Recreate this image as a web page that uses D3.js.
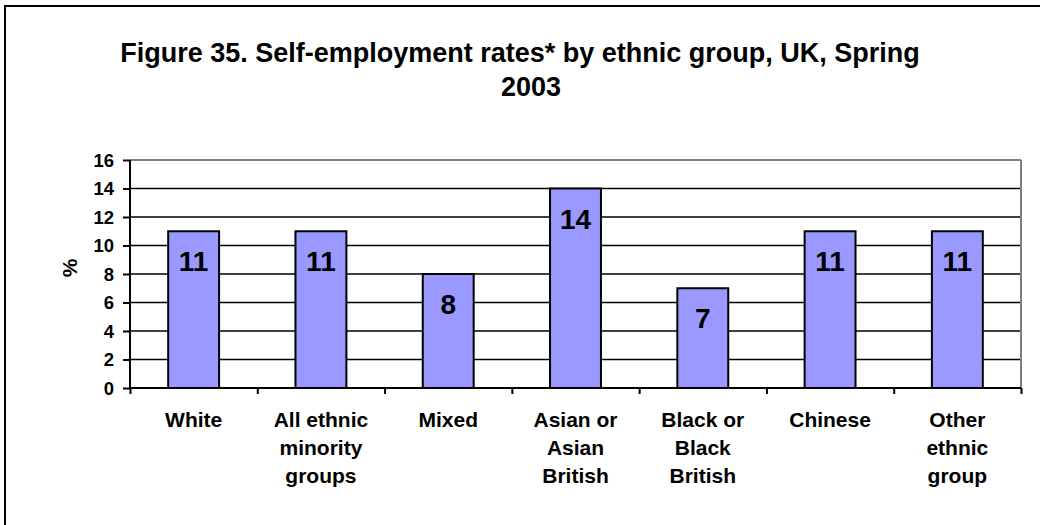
<!DOCTYPE html>
<html><head><meta charset="utf-8">
<script src="https://cdn.jsdelivr.net/npm/d3@7"></script>
<style>body{margin:0;background:#fff}svg{display:block}text{font-family:Arial,"Liberation Sans",sans-serif;font-weight:bold;fill:#000}</style>
</head><body>
<script>
const categories = [["White"],["All ethnic","minority","groups"],["Mixed"],["Asian or","Asian","British"],["Black or","Black","British"],["Chinese"],["Other","ethnic","group"]];
const values = [11, 11, 8, 14, 7, 11, 11];
const yTicks = [0,2,4,6,8,10,12,14,16];
const titleLines = ["Figure 35. Self-employment rates* by ethnic group, UK, Spring","2003"];
const yLabel = "%";

const W = 1040, H = 525;
const svg = d3.select("body").append("svg").attr("width", W).attr("height", H);
svg.append("rect").attr("x",5).attr("y",6).attr("width",W+10).attr("height",H+10)
  .attr("fill","#fff").attr("stroke","#000").attr("stroke-width",2);

const L = 130, R = 1021, T = 160, B = 388;
const keys = categories.map((c,i)=>i);
const x = d3.scaleBand().domain(keys).range([L,R]).paddingInner(0.6).paddingOuter(0.3);
const y = d3.scaleLinear().domain([0,16]).range([B,T]);

// gridlines
svg.append("g").selectAll("line").data(yTicks.filter(t=>t>0)).join("line")
  .attr("x1",L).attr("x2",R).attr("y1",d=>y(d)).attr("y2",d=>y(d))
  .attr("stroke",d=>d===16?"#808080":"#000").attr("stroke-width",d=>d===16?2:1.5);
svg.append("line").attr("x1",R).attr("x2",R).attr("y1",T).attr("y2",B).attr("stroke","#808080").attr("stroke-width",2);

// bars
svg.append("g").selectAll("rect").data(values).join("rect")
  .attr("x",(d,i)=>x(i)).attr("width",x.bandwidth())
  .attr("y",d=>y(d)).attr("height",d=>y(0)-y(d))
  .attr("fill","#9999ff").attr("stroke","#000").attr("stroke-width",2);

// value labels
svg.append("g").selectAll("text").data(values).join("text")
  .attr("x",(d,i)=>x(i)+x.bandwidth()/2).attr("y",d=>y(d)+40)
  .attr("text-anchor","middle").attr("font-size",28).text(d=>d);

// y axis
const ya = d3.axisLeft(y).tickValues(yTicks).tickSize(7).tickPadding(9);
const gy = svg.append("g").attr("transform",`translate(${L},0)`).call(ya);
gy.select(".domain").attr("stroke","#000").attr("stroke-width",2).attr("d",`M0,${B}V${T}`);
gy.selectAll(".tick line").attr("stroke","#000").attr("stroke-width",2);
gy.selectAll(".tick text").attr("font-size",18.5).attr("dy","0.35em").attr("font-family","Arial, 'Liberation Sans', sans-serif").attr("font-weight","bold").attr("fill","#000");

// x axis
const xb = d3.scaleLinear().domain([0,categories.length]).range([L,R]);
const xa = d3.axisBottom(xb).tickValues(d3.range(categories.length+1)).tickSize(6).tickFormat("");
const gx = svg.append("g").attr("transform",`translate(0,${B})`).call(xa);
gx.select(".domain").attr("stroke","#000").attr("stroke-width",2).attr("d",`M${L},0H${R}`);
gx.selectAll(".tick line").attr("stroke","#000").attr("stroke-width",2);

// category labels
categories.forEach((lines,i)=>{
  const cx = x(i)+x.bandwidth()/2;
  const t = svg.append("text").attr("text-anchor","middle").attr("font-size",21);
  lines.forEach((ln,j)=>t.append("tspan").attr("x",cx).attr("y",427+j*28).text(ln));
});

// y label
svg.append("text").attr("transform","translate(70,268) rotate(-90)").attr("text-anchor","middle")
  .attr("dy","0.35em").attr("font-size",21).text(yLabel);

// title
const titleX = [520, 531];
titleLines.forEach((ln,j)=>svg.append("text").attr("x",titleX[j]).attr("y",62+j*34)
  .attr("text-anchor","middle").attr("font-size",27).text(ln));
</script>
</body></html>
